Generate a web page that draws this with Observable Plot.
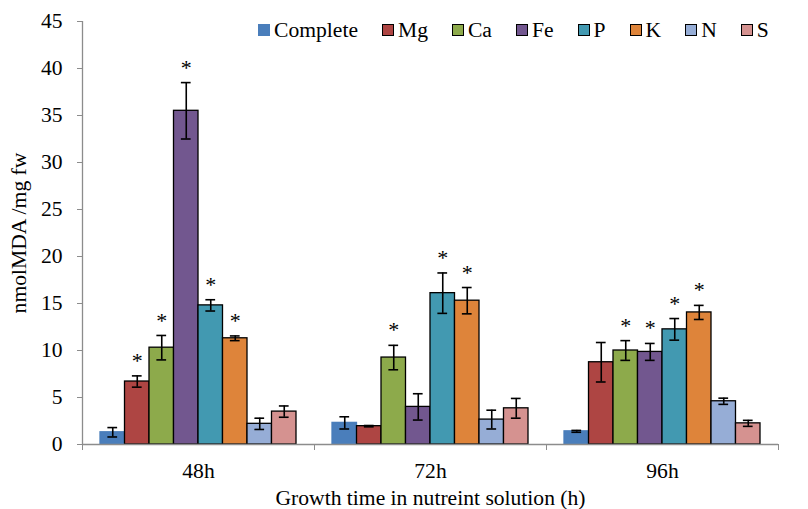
<!DOCTYPE html>
<html><head><meta charset="utf-8">
<script src="https://cdn.jsdelivr.net/npm/d3@7"></script>
<script src="https://cdn.jsdelivr.net/npm/@observablehq/plot@0.6"></script>
<style>
body{margin:0;background:#fff;}
#wrap{position:relative;width:808px;height:509px;font-family:"Liberation Serif","Times New Roman",serif;}
#legend{position:absolute;left:258px;top:18px;display:flex;align-items:center;font-size:21.6px;line-height:24px;white-space:nowrap;color:#000;}
.item{display:flex;align-items:center;margin-right:24px;}
.sw{width:12px;height:12px;box-sizing:border-box;margin-right:4px;}
</style></head><body><div id="wrap"><div id="legend"></div></div>
<script>
const groups = ["48h", "72h", "96h"];
const series = ["Complete", "Mg", "Ca", "Fe", "P", "K", "N", "S"];
const colors = ["#4a7ebb", "#ae4543", "#8daa4b", "#72578f", "#4299b1", "#de843a", "#96add6", "#d59290"];
const yTicks = [0, 5, 10, 15, 20, 25, 30, 35, 40, 45];

const values48 = [1.3, 6.7, 10.3, 35.5, 14.8, 11.3, 2.2, 3.5];
const errors48 = [0.5, 0.6, 1.3, 3.0, 0.6, 0.25, 0.6, 0.6];
const stars48  = [0, 1, 1, 1, 1, 1, 0, 0];

const values72 = [2.3, 1.95, 9.25, 4.0, 16.1, 15.3, 2.65, 3.85];
const errors72 = [0.65, 0.07, 1.3, 1.4, 2.15, 1.4, 1.0, 1.05];
const stars72  = [0, 0, 1, 0, 1, 1, 0, 0];

const values96 = [1.4, 8.75, 10.0, 9.85, 12.25, 14.05, 4.6, 2.25];
const errors96 = [0.1, 2.1, 1.05, 0.9, 1.15, 0.75, 0.33, 0.32];
const stars96  = [0, 0, 1, 1, 1, 1, 0, 0];

const valueSets = [values48, values72, values96];
const errorSets = [errors48, errors72, errors96];
const starSets = [stars48, stars72, stars96];

const bw = 0.1056;
const pad = (1 - series.length * bw) / 2;
const cap = 0.021;

const data = [];
groups.forEach((g, gi) => series.forEach((s, si) => {
  const x1 = gi + pad + si * bw;
  data.push({group: g, series: s, color: colors[si], x1, x2: x1 + bw, cx: x1 + bw / 2,
    value: valueSets[gi][si], err: errorSets[gi][si], star: starSets[gi][si]});
}));

const chart = Plot.plot({
  width: 808, height: 509,
  marginTop: 21, marginBottom: 65, marginLeft: 82, marginRight: 30,
  style: {fontFamily: "Liberation Serif, Times New Roman, serif", fontSize: "21.6px", color: "#000", background: "#fff"},
  x: {domain: [0, 3]},
  y: {domain: [0, 45]},
  marks: [
    Plot.rectY(data, {x1: "x1", x2: "x2", y: "value", fill: "color",
      stroke: d => d.series === "Complete" ? d.color : "#000", strokeWidth: 1.3}),
    Plot.ruleX(data, {x: "cx", y1: d => d.value - d.err, y2: d => d.value + d.err, stroke: "#000", strokeWidth: 1.6}),
    Plot.ruleY(data, {y: d => d.value - d.err, x1: d => d.cx - cap, x2: d => d.cx + cap, stroke: "#000", strokeWidth: 1.6}),
    Plot.ruleY(data, {y: d => d.value + d.err, x1: d => d.cx - cap, x2: d => d.cx + cap, stroke: "#000", strokeWidth: 1.6}),
    Plot.text(data.filter(d => d.star), {x: "cx", y: d => d.value + d.err, text: () => "*", dy: -15, fontSize: 22, fill: "#000"}),
    Plot.ruleY([0], {stroke: "#8c8c8c", strokeWidth: 1.3}),
    Plot.ruleX([0], {stroke: "#8c8c8c", strokeWidth: 1.3}),
    Plot.axisY({ticks: yTicks, tickSize: 5, tickPadding: 15, stroke: "#8c8c8c", fill: "#000",
      label: "nmolMDA /mg fw", labelAnchor: "center", labelArrow: "none", labelOffset: 72}),
    Plot.axisX({ticks: [0, 1, 2, 3], tickSize: 6, tickFormat: () => "", stroke: "#8c8c8c", label: null}),
    Plot.axisX({ticks: groups.map((g, i) => i + 0.5), tickSize: 0, tickPadding: 18,
      tickFormat: d => groups[Math.floor(d)], fill: "#000",
      label: "Growth time in nutreint solution (h)", labelAnchor: "center", labelArrow: "none", labelOffset: 60})
  ]
});
document.getElementById("wrap").appendChild(chart);

const legend = document.getElementById("legend");
series.forEach((s, i) => {
  const item = document.createElement("div");
  item.className = "item";
  const sw = document.createElement("div");
  sw.className = "sw";
  sw.style.background = colors[i];
  sw.style.border = i === 0 ? "none" : "1.3px solid #000";
  const t = document.createElement("span");
  t.textContent = s;
  item.appendChild(sw); item.appendChild(t);
  legend.appendChild(item);
});
legend.style.zIndex = 2;
</script></body></html>
